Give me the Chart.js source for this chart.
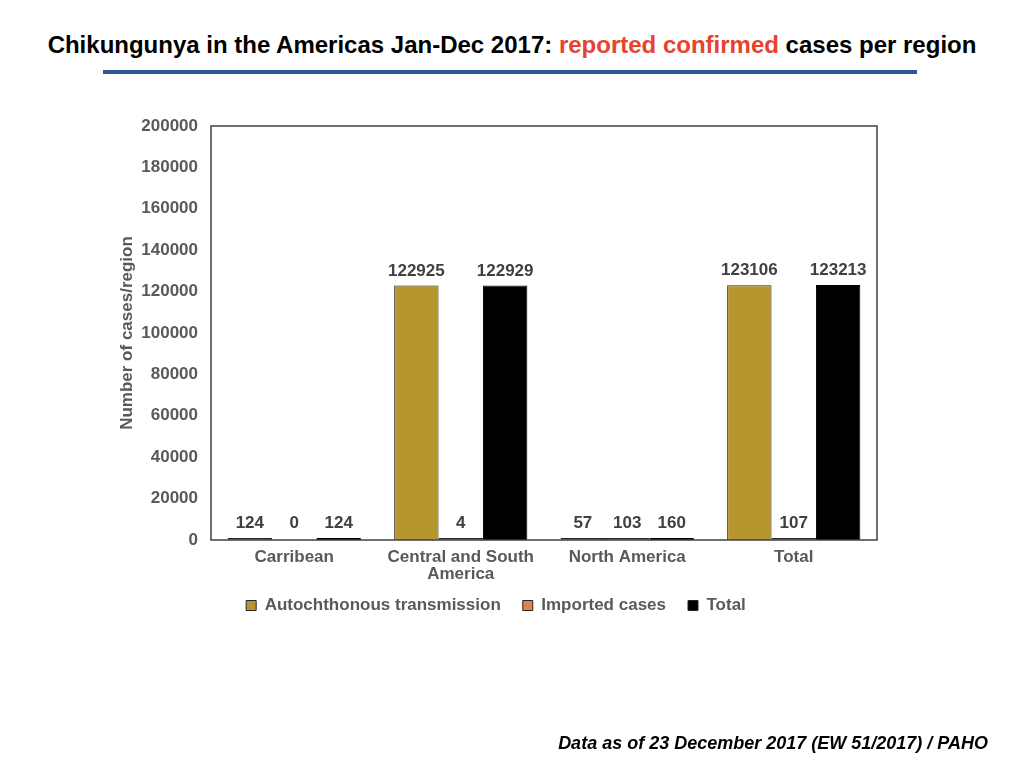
<!DOCTYPE html>
<html>
<head>
<meta charset="utf-8">
<script src="https://cdn.jsdelivr.net/npm/chart.js@4.4.0/dist/chart.umd.min.js"></script>
<style>
  html, body { margin: 0; padding: 0; background: #fff; }
  body { width: 1024px; height: 768px; position: relative; overflow: hidden; font-family: "Liberation Sans", Arial, sans-serif; }
  #title { position: absolute; left: 0; width: 1024px; top: 31px; text-align: center; font-weight: bold; font-size: 24px; color: #000; }
  #title .red { color: #E5432D; }
  #rule { position: absolute; left: 103px; width: 814px; top: 70px; height: 4px; background: #2F5597; }
  #note { position: absolute; right: 36px; top: 733px; font-weight: bold; font-style: italic; font-size: 18px; color: #000; }
  #wrap { position: absolute; left: 0; top: 0; width: 1024px; height: 768px; }
</style>
</head>
<body>
<div id="title">Chikungunya in the Americas Jan-Dec 2017: <span class="red">reported confirmed</span> cases per region</div>
<div id="rule"></div>
<div id="wrap"><canvas id="chart"></canvas></div>
<div id="note">Data as of 23 December 2017 (EW 51/2017) / PAHO</div>
<script>
const regions = ['Carribean', ['Central and South', 'America'], 'North America', 'Total'];
const autochthonous = [124, 122925, 57, 123106];
const imported = [0, 4, 103, 107];
const totals = [124, 122929, 160, 123213];

const textGrey = '#595959';
const labelFont = { family: '"Liberation Sans", Arial, sans-serif', size: 17, weight: 'bold' };

// zero bars are drawn invisible, the rest keep their colour
const fillFor = colour => c => (c.raw === 0 ? 'rgba(0,0,0,0)' : colour);

// value labels above every bar
const valueLabels = {
  id: 'valueLabels',
  afterDatasetsDraw(chart) {
    const ctx = chart.ctx;
    ctx.save();
    ctx.font = 'bold 17px "Liberation Sans", Arial, sans-serif';
    ctx.fillStyle = '#404040';
    ctx.textAlign = 'center';
    ctx.textBaseline = 'bottom';
    chart.data.datasets.forEach((ds, i) => {
      const meta = chart.getDatasetMeta(i);
      meta.data.forEach((bar, j) => {
        ctx.fillText(String(ds.data[j]), bar.x, bar.y - 6);
      });
    });
    ctx.restore();
  }
};

// frame round the plot area
const plotFrame = {
  id: 'plotFrame',
  afterDraw(chart) {
    const a = chart.chartArea;
    const ctx = chart.ctx;
    ctx.save();
    ctx.strokeStyle = '#404040';
    ctx.lineWidth = 1.5;
    ctx.strokeRect(a.left, a.top, a.right - a.left, a.bottom - a.top);
    ctx.restore();
  }
};

// pull the legend a little closer to the axis labels
const legendNudge = {
  id: 'legendNudge',
  afterLayout(chart) {
    chart.legend.top -= 15;
    chart.legend.bottom -= 15;
  }
};

new Chart(document.getElementById('chart'), {
  type: 'bar',
  data: {
    labels: regions,
    datasets: [
      { label: 'Autochthonous transmission', data: autochthonous, backgroundColor: fillFor('#B8962E'), borderColor: fillFor('#262626'), borderWidth: 1 },
      { label: 'Imported cases', data: imported, backgroundColor: fillFor('#E0844A'), borderColor: fillFor('#262626'), borderWidth: 1 },
      { label: 'Total', data: totals, backgroundColor: fillFor('#000000'), borderColor: fillFor('#000000'), borderWidth: 1 }
    ]
  },
  options: {
    responsive: true,
    maintainAspectRatio: false,
    animation: false,
    layout: { padding: { left: 115, right: 147, top: 126, bottom: 129 } },
    datasets: { bar: { barPercentage: 1, categoryPercentage: 0.8, minBarLength: 2 } },
    plugins: {
      legend: {
        position: 'bottom',
        labels: {
          boxWidth: 10,
          boxHeight: 10,
          padding: 22,
          color: textGrey,
          font: labelFont,
          generateLabels: chart => chart.data.datasets.map((ds, i) => ({
            text: ds.label,
            fillStyle: ['#B8962E', '#E0844A', '#000000'][i],
            strokeStyle: '#262626',
            lineWidth: 1,
            fontColor: textGrey,
            datasetIndex: i,
            hidden: false
          }))
        }
      },
      tooltip: { enabled: false }
    },
    scales: {
      x: {
        grid: { display: false, drawTicks: false },
        border: { display: false },
        ticks: { color: textGrey, font: { ...labelFont, lineHeight: 1.0 }, padding: 9, maxRotation: 0, autoSkip: false },
        afterFit: s => { s.height = 50; }
      },
      y: {
        min: 0,
        max: 200000,
        grid: { display: false, drawTicks: false },
        border: { display: false },
        ticks: { stepSize: 20000, color: textGrey, font: labelFont, padding: 13, callback: v => String(v) },
        title: { display: true, text: 'Number of cases/region', color: textGrey, font: labelFont, padding: 2 },
        afterFit: s => { s.width = 96; }
      }
    }
  },
  plugins: [valueLabels, plotFrame, legendNudge]
});
</script>
</body>
</html>
